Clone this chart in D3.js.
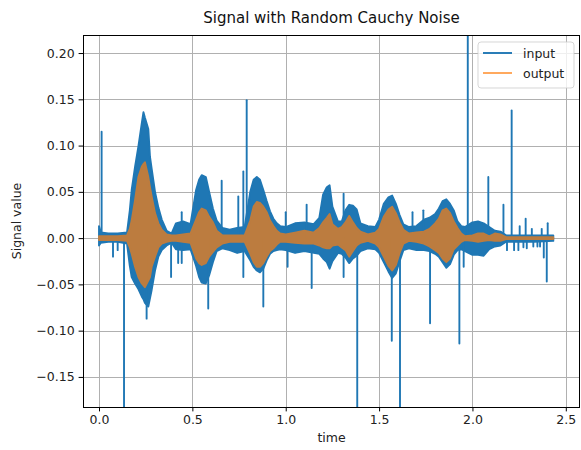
<!DOCTYPE html>
<html>
<head>
<meta charset="utf-8">
<script src="https://cdn.jsdelivr.net/npm/d3@7"></script>
<style>
  html, body { margin: 0; padding: 0; background: #fff; }
  svg { display: block; font-family: "DejaVu Sans", sans-serif; }
</style>
</head>
<body>
<svg id="chart"></svg>
<script>
// Envelope of the dense signal (seconds / signal value)
const time = [0.000, 0.010, 0.050, 0.100, 0.150, 0.165, 0.175, 0.193, 0.211, 0.229, 0.238, 0.246,
  0.264, 0.273, 0.282, 0.300, 0.318, 0.336, 0.362, 0.389, 0.412, 0.450, 0.490, 0.520, 0.536,
  0.550, 0.572, 0.590, 0.610, 0.630, 0.660, 0.700, 0.740, 0.780, 0.810, 0.828, 0.845, 0.862,
  0.880, 0.898, 0.916, 0.934, 0.952, 0.970, 1.000, 1.050, 1.100, 1.150, 1.180, 1.200, 1.220,
  1.235, 1.250, 1.280, 1.300, 1.320, 1.340, 1.360, 1.380, 1.400, 1.440, 1.480, 1.500, 1.525,
  1.550, 1.570, 1.590, 1.610, 1.630, 1.660, 1.700, 1.740, 1.770, 1.800, 1.820, 1.840, 1.860,
  1.880, 1.900, 1.920, 1.940, 1.960, 2.000, 2.030, 2.060, 2.090, 2.120, 2.150, 2.180, 2.250,
  2.330, 2.433];

const inputUpper = [0.013, 0.006, 0.005, 0.005, 0.006, 0.030, 0.052, 0.077, 0.099, 0.124, 0.136, 0.130,
  0.118, 0.088, 0.075, 0.050, 0.033, 0.020, 0.008, 0.005, 0.016, 0.018, 0.015, 0.052, 0.063,
  0.068, 0.066, 0.050, 0.032, 0.019, 0.011, 0.009, 0.011, 0.012, 0.050, 0.063, 0.066, 0.063,
  0.052, 0.040, 0.029, 0.021, 0.016, 0.013, 0.012, 0.016, 0.017, 0.015, 0.022, 0.047, 0.055,
  0.057, 0.034, 0.018, 0.018, 0.030, 0.036, 0.035, 0.031, 0.016, 0.013, 0.012, 0.020, 0.037,
  0.044, 0.046, 0.037, 0.025, 0.015, 0.012, 0.013, 0.020, 0.022, 0.026, 0.032, 0.040, 0.042,
  0.037, 0.030, 0.018, 0.013, 0.012, 0.017, 0.018, 0.016, 0.012, 0.008, 0.007, 0.003, 0.003,
  0.003, 0.003];

const inputLower = [-0.008, -0.005, -0.004, -0.004, -0.006, -0.030, -0.042, -0.049, -0.055, -0.063, -0.066, -0.070,
  -0.074, -0.065, -0.056, -0.035, -0.020, -0.013, -0.008, -0.005, -0.012, -0.013, -0.012, -0.030, -0.042,
  -0.048, -0.049, -0.040, -0.026, -0.014, -0.011, -0.013, -0.016, -0.014, -0.024, -0.031, -0.035, -0.037,
  -0.033, -0.024, -0.017, -0.014, -0.013, -0.012, -0.013, -0.016, -0.014, -0.016, -0.017, -0.022, -0.026,
  -0.033, -0.025, -0.016, -0.017, -0.021, -0.027, -0.022, -0.019, -0.014, -0.011, -0.012, -0.016, -0.026,
  -0.036, -0.043, -0.038, -0.025, -0.013, -0.011, -0.013, -0.013, -0.014, -0.017, -0.020, -0.026, -0.032,
  -0.028, -0.018, -0.013, -0.012, -0.014, -0.018, -0.018, -0.019, -0.012, -0.009, -0.008, -0.004, -0.004,
  -0.004, -0.003];

const outputUpper = [0.002, 0.002, 0.002, 0.002, 0.003, 0.010, 0.019, 0.041, 0.066, 0.077, 0.080, 0.082,
  0.066, 0.055, 0.045, 0.027, 0.016, 0.009, 0.004, 0.003, 0.003, 0.004, 0.005, 0.020, 0.028,
  0.032, 0.030, 0.023, 0.017, 0.008, 0.003, 0.003, 0.003, 0.003, 0.019, 0.034, 0.039, 0.038,
  0.034, 0.028, 0.019, 0.013, 0.008, 0.005, 0.004, 0.006, 0.008, 0.006, 0.011, 0.017, 0.022,
  0.026, 0.015, 0.010, 0.012, 0.017, 0.024, 0.017, 0.011, 0.007, 0.004, 0.006, 0.010, 0.023,
  0.031, 0.034, 0.027, 0.017, 0.009, 0.005, 0.006, 0.007, 0.010, 0.016, 0.021, 0.030, 0.032,
  0.027, 0.018, 0.011, 0.005, 0.002, 0.003, 0.005, 0.005, 0.002, 0.005, 0.004, 0.001, 0.001,
  0.001, 0.001];

const outputLower = [-0.002, -0.002, -0.002, -0.002, -0.003, -0.010, -0.017, -0.031, -0.042, -0.049, -0.051, -0.053,
  -0.046, -0.042, -0.031, -0.020, -0.010, -0.006, -0.004, -0.003, -0.003, -0.004, -0.005, -0.022, -0.027,
  -0.029, -0.027, -0.020, -0.015, -0.010, -0.006, -0.004, -0.004, -0.004, -0.017, -0.026, -0.031, -0.031,
  -0.027, -0.020, -0.014, -0.011, -0.007, -0.004, -0.004, -0.005, -0.006, -0.006, -0.008, -0.010, -0.011,
  -0.011, -0.008, -0.007, -0.010, -0.013, -0.020, -0.014, -0.008, -0.005, -0.003, -0.006, -0.010, -0.020,
  -0.030, -0.035, -0.029, -0.016, -0.006, -0.003, -0.004, -0.006, -0.009, -0.013, -0.016, -0.022, -0.026,
  -0.022, -0.012, -0.008, -0.004, -0.002, -0.003, -0.004, -0.003, -0.002, -0.003, -0.003, -0.001, -0.001,
  -0.001, -0.001];

// Single-sample Cauchy spikes on the input (value beyond the axis limits runs off the plot)
const spikeTime = [0.014, 0.075, 0.100, 0.134, 0.255, 0.386, 0.424, 0.443, 0.443, 0.585, 0.657, 0.746,
  0.773, 0.773, 0.791, 0.880, 1.000, 1.010, 1.112, 1.139, 1.310, 1.310, 1.383, 1.568, 1.612,
  1.679, 1.737, 1.773, 1.930, 1.953, 1.975, 2.085, 2.166, 2.185, 2.210, 2.223, 2.246, 2.253,
  2.273, 2.285, 2.291, 2.318, 2.326, 2.348, 2.362, 2.371, 2.382, 2.398, 2.403];
const spikeValue = [0.115, -0.020, -0.013, -0.350, -0.087, -0.042, -0.027, 0.028, -0.027, -0.076, 0.062, 0.045,
  0.072, -0.042, 0.149, -0.074, 0.028, -0.031, 0.036, -0.054, 0.048, -0.042, -0.350, -0.111, -0.350,
  0.028, 0.030, -0.092, -0.114, -0.031, 0.350, 0.066, 0.036, -0.013, 0.138, -0.013, -0.013, 0.013,
  -0.010, 0.021, -0.011, 0.010, -0.009, -0.009, -0.009, 0.010, -0.021, -0.047, 0.016];

const xTicks = [0.0, 0.5, 1.0, 1.5, 2.0, 2.5];
const yTicks = [-0.15, -0.10, -0.05, 0.00, 0.05, 0.10, 0.15, 0.20];
const seriesNames = ['input', 'output'];

const W = 581, H = 450;
const plot = { left: 83, top: 35, right: 580, bottom: 407 };
const blue = '#1f77b4', orange = '#ff7f0e';

const svg = d3.select('#chart').attr('width', W).attr('height', H);

const x = d3.scaleLinear().domain([-0.0857, 2.576]).range([plot.left, plot.right]);
const y = d3.scaleLinear().domain([-0.1825, 0.2195]).range([plot.bottom, plot.top]);

svg.append('defs').append('clipPath').attr('id', 'clip')
  .append('rect')
  .attr('x', plot.left).attr('y', plot.top)
  .attr('width', plot.right - plot.left).attr('height', plot.bottom - plot.top);

// Grid
const grid = svg.append('g');
grid.selectAll('line.gx').data(xTicks).join('line')
  .attr('x1', d => Math.round(x(d)) + 0.5).attr('x2', d => Math.round(x(d)) + 0.5)
  .attr('y1', plot.top).attr('y2', plot.bottom)
  .attr('stroke', '#b0b0b0').attr('stroke-width', 1);
grid.selectAll('line.gy').data(yTicks).join('line')
  .attr('y1', d => Math.round(y(d)) + 0.5).attr('y2', d => Math.round(y(d)) + 0.5)
  .attr('x1', plot.left).attr('x2', plot.right)
  .attr('stroke', '#b0b0b0').attr('stroke-width', 1);

const data = d3.range(time.length).map(i => ({
  t: time[i], iu: inputUpper[i], il: inputLower[i], ou: outputUpper[i], ol: outputLower[i]
}));

const plotG = svg.append('g').attr('clip-path', 'url(#clip)');

// Input envelope
plotG.append('path')
  .datum(data)
  .attr('d', d3.area().x(d => x(d.t)).y0(d => y(d.il)).y1(d => y(d.iu)))
  .attr('fill', blue).attr('stroke', blue).attr('stroke-width', 1.9)
  .attr('stroke-linejoin', 'round');

// Input spikes
plotG.selectAll('line.spike')
  .data(d3.range(spikeTime.length))
  .join('line')
  .attr('x1', i => x(spikeTime[i])).attr('x2', i => x(spikeTime[i]))
  .attr('y1', y(0)).attr('y2', i => y(spikeValue[i]))
  .attr('stroke', blue).attr('stroke-width', 1.9)
  .attr('stroke-linecap', 'round');

// Output envelope
plotG.append('g').attr('opacity', 0.7)
  .append('path')
  .datum(data)
  .attr('d', d3.area().x(d => x(d.t)).y0(d => y(d.ol)).y1(d => y(d.ou)))
  .attr('fill', orange).attr('stroke', orange).attr('stroke-width', 1.9)
  .attr('stroke-linejoin', 'round');

// Axes
const xAxis = svg.append('g')
  .attr('transform', `translate(0,${plot.bottom})`)
  .call(d3.axisBottom(x).tickValues(xTicks).tickFormat(d3.format('.1f'))
    .tickSize(4.4).tickPadding(4).tickSizeOuter(0));
const yAxis = svg.append('g')
  .attr('transform', `translate(${plot.left},0)`)
  .call(d3.axisLeft(y).tickValues(yTicks).tickFormat(d3.format('.2f'))
    .tickSize(4.4).tickPadding(4).tickSizeOuter(0));

[xAxis, yAxis].forEach(ax => {
  ax.select('.domain').remove();
  ax.selectAll('line').attr('stroke', '#000').attr('stroke-width', 1);
  ax.selectAll('text').attr('fill', '#222').attr('font-size', 12.5)
    .attr('font-family', '"DejaVu Sans", sans-serif');
});

// Spines
svg.append('rect')
  .attr('x', plot.left + 0.5).attr('y', plot.top + 0.5)
  .attr('width', plot.right - plot.left - 1).attr('height', plot.bottom - plot.top)
  .attr('fill', 'none').attr('stroke', '#000').attr('stroke-width', 1);

// Title and labels
svg.append('text')
  .attr('x', (plot.left + plot.right) / 2).attr('y', 23)
  .attr('text-anchor', 'middle').attr('font-size', 15).attr('fill', '#111')
  .text('Signal with Random Cauchy Noise');

svg.append('text')
  .attr('x', (plot.left + plot.right) / 2).attr('y', 442)
  .attr('text-anchor', 'middle').attr('font-size', 12.5).attr('fill', '#222')
  .text('time');

svg.append('text')
  .attr('transform', `translate(21,${(plot.top + plot.bottom) / 2}) rotate(-90)`)
  .attr('text-anchor', 'middle').attr('font-size', 12.5).attr('fill', '#222')
  .text('Signal value');

// Legend
const legend = svg.append('g').attr('transform', 'translate(478,42)');
legend.append('rect')
  .attr('width', 96).attr('height', 46).attr('rx', 3)
  .attr('fill', '#fff').attr('fill-opacity', 0.8)
  .attr('stroke', '#cccccc').attr('stroke-opacity', 0.8);
const legendColors = [blue, '#ffa556'];
seriesNames.forEach((name, i) => {
  legend.append('line')
    .attr('x1', 5).attr('x2', 34)
    .attr('y1', 11 + i * 20).attr('y2', 11 + i * 20)
    .attr('stroke', legendColors[i]).attr('stroke-width', 1.9);
  legend.append('text')
    .attr('x', 45).attr('y', 15.5 + i * 20)
    .attr('font-size', 12.5).attr('fill', '#222')
    .text(name);
});
</script>
</body>
</html>
